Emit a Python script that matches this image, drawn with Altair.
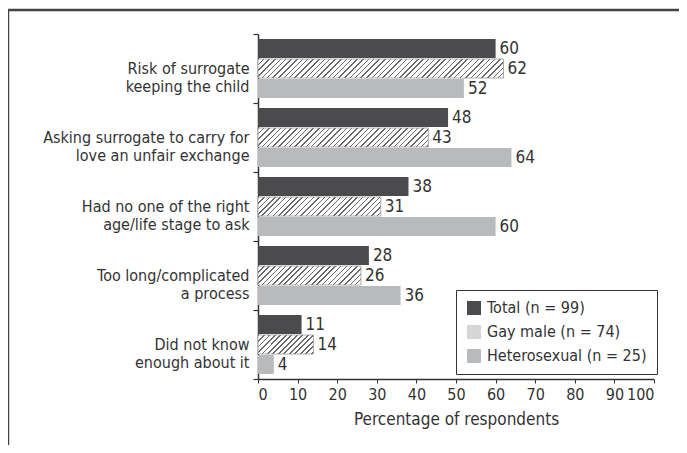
import altair as alt
import pandas as pd

categories = [
    "Risk of surrogate|keeping the child",
    "Asking surrogate to carry for|love an unfair exchange",
    "Had no one of the right|age/life stage to ask",
    "Too long/complicated|a process",
    "Did not know|enough about it",
]
groups = ["Total (n = 99)", "Gay male (n = 74)", "Heterosexual (n = 25)"]
total = [60, 48, 38, 28, 11]
gay = [62, 43, 31, 26, 14]
hetero = [52, 64, 60, 36, 4]
x_ticks = [0, 10, 20, 30, 40, 50, 60, 70, 80, 90, 100]

PW, PH = 396, 345
FONT = "DejaVu Sans Condensed, Liberation Sans Narrow, sans-serif"
TXT = "#333333"

rows = []
for i, c in enumerate(categories):
    for g, vals in zip(groups, [total, gay, hetero]):
        rows.append({"cat": c, "group": g, "value": vals[i]})
df = pd.DataFrame(rows)

PI, PO = 0.05, 0.25
step_in = (PH / len(categories)) / (3 - PI + 2 * PO)
BAR_H = step_in * (1 - PI)


def hatch(w, h, period=5.5, line=1.5, ink="#6a6a6a"):
    s = (w + h) / (w * w + h * h)
    tot = w + h
    stops = []
    c = 0.0
    while c < tot - 1e-6:
        a = round(c / tot, 5)
        b = round(min((c + line) / tot, 1.0), 5)
        n = round(min((c + period) / tot, 1.0), 5)
        stops += [
            {"offset": a, "color": ink},
            {"offset": b, "color": ink},
            {"offset": b, "color": "#ffffff"},
            {"offset": n, "color": "#ffffff"},
        ]
        c += period
    return {"gradient": "linear", "x1": 0, "y1": 0,
            "x2": round(w * s, 6), "y2": round(h * s, 6), "stops": stops}


y_enc = alt.Y(
    "cat:N", sort=categories,
    scale=alt.Scale(domain=categories, paddingInner=0, paddingOuter=0),
    axis=alt.Axis(
        title=None, labelExpr="split(datum.label, '|')", tickBand="extent",
        labelFont=FONT, labelFontSize=16, labelLineHeight=18, labelColor=TXT,
        labelAlign="right", labelBaseline="middle", labelPadding=4, labelLimit=300,
        tickSize=5, tickColor=TXT, domainColor=TXT, domainWidth=1.5, tickWidth=1.2,
    ),
)
yoff = alt.YOffset("group:N", sort=groups,
                   scale=alt.Scale(domain=groups, paddingInner=PI, paddingOuter=PO))
x_enc = alt.X(
    "value:Q", scale=alt.Scale(domain=[0, 100], nice=False),
    axis=alt.Axis(
        values=x_ticks, title="Percentage of respondents", grid=False,
        labelFont=FONT, labelFontSize=16, labelColor=TXT, labelPadding=3,
        titleFont=FONT, titleFontSize=17, titleFontWeight="normal", titleColor=TXT,
        titlePadding=9, tickSize=4, tickColor=TXT, domainColor=TXT, domainWidth=1.5,
    ),
)

base = alt.Chart(df).mark_bar().encode(
    x=x_enc, y=y_enc, yOffset=yoff,
    color=alt.Color(
        "group:N", sort=groups,
        scale=alt.Scale(domain=groups, range=["#4b4b4d", "#d6d6d6", "#b9babc"]),
        legend=alt.Legend(
            title=None, orient="none", legendX=198, legendY=256,
            symbolType="square", symbolSize=196, symbolStrokeWidth=0,
            labelFont=FONT, labelFontSize=16, labelColor=TXT, labelOffset=5,
            labelLimit=300, rowPadding=8, padding=10,
            strokeColor="#333333", fillColor="#ffffff",
        ),
    ),
)

hatch_layers = []
for i, c in enumerate(categories):
    w = gay[i] / 100 * PW
    hatch_layers.append(
        alt.Chart(df)
        .transform_filter((alt.datum.cat == c) & (alt.datum.group == groups[1]))
        .mark_bar(fill=hatch(w, BAR_H), stroke="#9a9a9a", strokeWidth=0.8)
        .encode(x=x_enc, y=y_enc, yOffset=yoff)
    )

labels = alt.Chart(df).mark_text(
    align="left", baseline="middle", dx=4, font=FONT, fontSize=17, color=TXT
).encode(x=x_enc, y=y_enc, yOffset=yoff, text="value:Q")

frame_df = pd.DataFrame({"k": [0]})
left_line = alt.Chart(frame_df).mark_rule(color="#444444", strokeWidth=2.5).encode(
    x=alt.value(-250), y=alt.value(-24), y2=alt.value(460))
top_line = alt.Chart(frame_df).mark_rule(color="#444444", strokeWidth=2.5).encode(
    x=alt.value(-251), x2=alt.value(460), y=alt.value(-24))

chart = alt.layer(base, *hatch_layers, labels, left_line, top_line).properties(
    width=PW, height=PH,
    padding={"left": 250, "top": 26, "right": 25, "bottom": 66},
    autosize=alt.AutoSizeParams(type="none"),
).configure_view(stroke=None).configure_axis(grid=False)

chart.save("out.html", embed_options={"renderer": "svg", "actions": False})
